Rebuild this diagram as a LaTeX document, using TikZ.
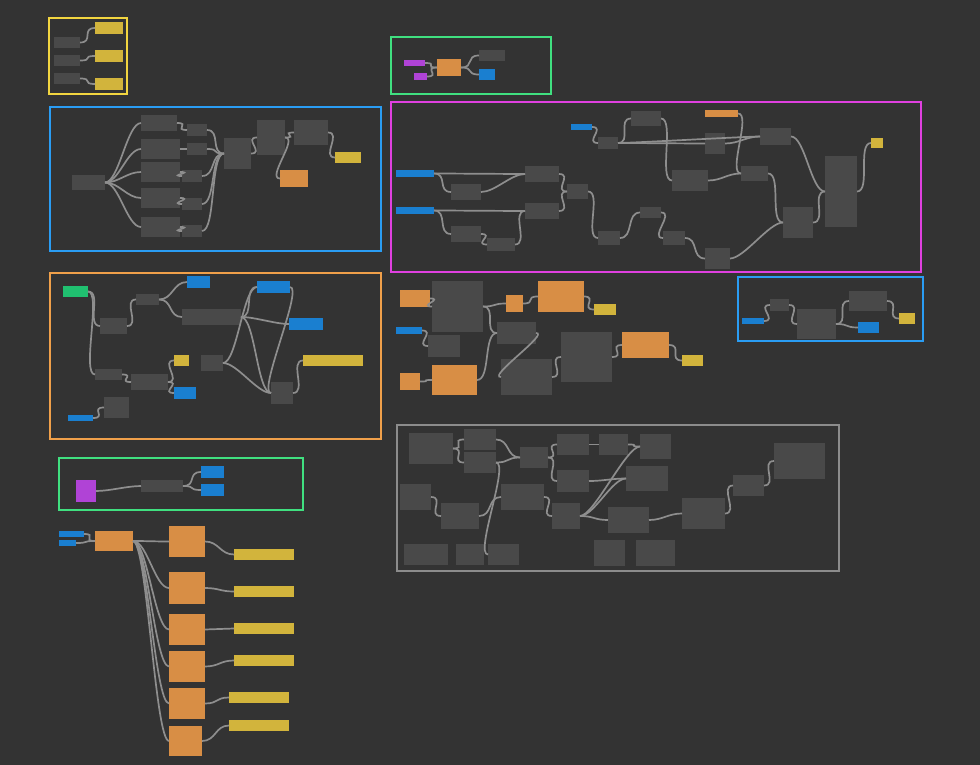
\documentclass[tikz,border=0pt]{standalone}
\begin{document}
\begin{tikzpicture}[x=1pt,y=-1pt,
 box/.style={draw=none,inner sep=0,outer sep=0},
 wire/.style={draw=wireg,line width=1.7pt},
 frame/.style={line width=1.4pt}]
\definecolor{bg}{HTML}{333333}\definecolor{gr}{HTML}{494949}
\definecolor{ye}{HTML}{D2B43C}\definecolor{or}{HTML}{D88E45}
\definecolor{bl}{HTML}{1A7FD0}\definecolor{gn}{HTML}{20C070}
\definecolor{pu}{HTML}{B043D6}\definecolor{wireg}{HTML}{8E8E8E}
\definecolor{fy}{HTML}{F2D540}\definecolor{fb}{HTML}{2A9DF4}
\definecolor{fo}{HTML}{F0A04A}\definecolor{fm}{HTML}{E040E0}
\definecolor{fg}{HTML}{40E080}\definecolor{fgr}{HTML}{8C8C8C}
\fill[bg] (0,0) rectangle (980,765);
\useasboundingbox (0,0) rectangle (980,765);
\newcommand\B[6]{\node[box,fill=#6,minimum width={(#4-#2)*1pt},minimum height={(#5-#3)*1pt}] (#1) at ({(#2+#4)/2},{(#3+#5)/2}) {};}
\newcommand\W[2]{\draw[wire] (#1.east) .. controls +(14,0) and +(-14,0) .. (#2.west);}
% frames
\draw[frame,fy] (49,18) rectangle (127,94);
\draw[frame,fg] (391,37) rectangle (551,94);
\draw[frame,fb] (50,107) rectangle (381,251);
\draw[frame,fm] (391,102) rectangle (921,272);
\draw[frame,fo] (50,273) rectangle (381,439);
\draw[frame,fb] (738,277) rectangle (923,341);
\draw[frame,fg] (59,458) rectangle (303,510);
\draw[frame,fgr] (397,425) rectangle (839,571);
% group 1
\B{a1}{54}{37}{80}{48}{gr}\B{a2}{54}{55}{80}{66}{gr}\B{a3}{54}{73}{80}{84}{gr}
\B{ay1}{95}{22}{123}{34}{ye}\B{ay2}{95}{50}{123}{62}{ye}\B{ay3}{95}{78}{123}{90}{ye}
\W{a1}{ay1}\W{a2}{ay2}\W{a3}{ay3}
% group 2
\B{b1}{404}{60}{425}{66}{pu}\B{b2}{414}{73}{427}{80}{pu}\B{b3}{437}{59}{461}{76}{or}
\B{b4}{479}{50}{505}{61}{gr}\B{b5}{479}{69}{495}{80}{bl}
\W{b1}{b3}\W{b2}{b3}\W{b3}{b4}\W{b3}{b5}
% group 3
\B{c0}{72}{175}{105}{190}{gr}
\B{c1}{141}{115}{177}{131}{gr}\B{c2}{141}{139}{180}{159}{gr}\B{c3}{141}{162}{180}{182}{gr}
\B{c4}{141}{188}{180}{208}{gr}\B{c5}{141}{217}{180}{237}{gr}
\B{d1}{187}{124}{207}{136}{gr}\B{d2}{187}{143}{207}{155}{gr}\B{d3}{182}{170}{202}{182}{gr}
\B{d4}{182}{198}{202}{210}{gr}\B{d5}{182}{225}{202}{237}{gr}
\B{c6}{224}{138}{251}{169}{gr}\B{c7}{257}{120}{285}{155}{gr}\B{c8}{294}{120}{328}{145}{gr}
\B{c9}{335}{152}{361}{163}{ye}\B{c10}{280}{170}{308}{187}{or}
\W{c0}{c1}\W{c0}{c2}\W{c0}{c3}\W{c0}{c4}\W{c0}{c5}
\W{c1}{d1}\W{c2}{d2}\W{c3}{d3}\W{c4}{d4}\W{c5}{d5}
\W{d1}{c6}\W{d2}{c6}\W{d3}{c6}\W{d4}{c6}\W{d5}{c6}\W{c6}{c7}\W{c7}{c8}\W{c8}{c9}\W{c7}{c10}
% group 4
\B{e1}{396}{170}{434}{177}{bl}\B{e2}{396}{207}{434}{214}{bl}
\B{e3}{451}{184}{481}{200}{gr}\B{e4}{451}{226}{481}{242}{gr}\B{e5}{487}{238}{515}{251}{gr}
\B{e6}{525}{166}{559}{182}{gr}\B{e7}{525}{203}{559}{219}{gr}\B{e8}{567}{184}{588}{199}{gr}
\B{e9}{598}{137}{618}{149}{gr}\B{e10}{571}{124}{592}{130}{bl}\B{e11}{598}{231}{620}{245}{gr}
\B{e12}{631}{111}{661}{126}{gr}\B{e13}{640}{207}{661}{218}{gr}\B{e14}{663}{231}{685}{245}{gr}
\B{e15}{672}{170}{708}{191}{gr}\B{e16}{705}{133}{725}{154}{gr}\B{e17}{705}{110}{738}{117}{or}
\B{e18}{705}{248}{730}{269}{gr}\B{e19}{741}{166}{768}{181}{gr}\B{e20}{760}{128}{791}{145}{gr}
\B{e21}{783}{207}{813}{238}{gr}\B{e22}{825}{156}{857}{227}{gr}\B{e23}{871}{138}{883}{148}{ye}
\W{e1}{e3}\W{e1}{e6}\W{e2}{e4}\W{e2}{e7}\W{e3}{e6}\W{e4}{e5}\W{e5}{e7}
\W{e6}{e8}\W{e7}{e8}\W{e8}{e11}\W{e10}{e9}\W{e9}{e12}\W{e9}{e16}\W{e11}{e13}\W{e13}{e14}
\W{e14}{e18}\W{e12}{e15}\W{e15}{e19}\W{e16}{e20}\W{e17}{e19}\W{e18}{e21}\W{e19}{e21}
\W{e20}{e22}\W{e21}{e22}\W{e22}{e23}\W{e9}{e20}
% group 5
\B{f1}{63}{286}{88}{297}{gn}\B{f2}{100}{318}{127}{334}{gr}\B{f3}{136}{294}{159}{305}{gr}
\B{f4}{187}{276}{210}{288}{bl}\B{f5}{182}{309}{241}{325}{gr}\B{f6}{257}{281}{290}{293}{bl}
\B{f7}{289}{318}{323}{330}{bl}\B{f8}{303}{355}{363}{366}{ye}\B{f9}{174}{355}{189}{366}{ye}
\B{f10}{201}{355}{223}{371}{gr}\B{f11}{131}{374}{168}{390}{gr}\B{f12}{174}{387}{196}{399}{bl}
\B{f13}{95}{369}{122}{380}{gr}\B{f14}{104}{397}{129}{418}{gr}\B{f15}{68}{415}{93}{421}{bl}
\B{f16}{271}{382}{293}{404}{gr}
\W{f1}{f2}\W{f1}{f13}\W{f2}{f3}\W{f3}{f4}\W{f3}{f5}\W{f5}{f6}\W{f5}{f7}\W{f5}{f16}
\W{f13}{f11}\W{f11}{f9}\W{f11}{f12}\W{f15}{f14}\W{f10}{f6}\W{f10}{f16}\W{f16}{f8}\W{f6}{f16}
% middle
\B{g1}{400}{290}{430}{307}{or}\B{g2}{432}{281}{483}{332}{gr}\B{g3}{506}{295}{523}{312}{or}
\B{g4}{538}{281}{584}{312}{or}\B{g5}{594}{304}{616}{315}{ye}\B{g6}{396}{327}{422}{334}{bl}
\B{g7}{428}{335}{460}{357}{gr}\B{g8}{497}{322}{536}{344}{gr}\B{g9}{501}{359}{552}{395}{gr}
\B{g10}{561}{332}{612}{382}{gr}\B{g11}{622}{332}{669}{358}{or}\B{g12}{682}{355}{703}{366}{ye}
\B{g13}{400}{373}{420}{390}{or}\B{g14}{432}{365}{477}{395}{or}
\W{g1}{g2}\W{g2}{g3}\W{g3}{g4}\W{g4}{g5}\W{g6}{g7}\W{g2}{g8}\W{g8}{g9}\W{g9}{g10}
\W{g10}{g11}\W{g11}{g12}\W{g13}{g14}\W{g14}{g8}
% group 6
\B{h1}{742}{318}{764}{324}{bl}\B{h2}{770}{299}{789}{311}{gr}\B{h3}{797}{309}{836}{339}{gr}
\B{h4}{849}{291}{887}{311}{gr}\B{h5}{858}{322}{879}{333}{bl}\B{h6}{899}{313}{915}{324}{ye}
\W{h1}{h2}\W{h2}{h3}\W{h3}{h4}\W{h3}{h5}\W{h4}{h6}
% group 7
\B{i1}{76}{480}{96}{502}{pu}\B{i2}{141}{480}{183}{492}{gr}
\B{i3}{201}{466}{224}{478}{bl}\B{i4}{201}{484}{224}{496}{bl}
\W{i1}{i2}\W{i2}{i3}\W{i2}{i4}
% group 8
\B{j1}{409}{433}{453}{464}{gr}\B{j2}{464}{429}{496}{450}{gr}\B{j3}{464}{452}{496}{473}{gr}
\B{j4}{520}{447}{548}{468}{gr}\B{j5}{557}{434}{589}{455}{gr}\B{j6}{599}{434}{628}{455}{gr}
\B{j7}{640}{434}{671}{459}{gr}\B{j8}{557}{470}{589}{492}{gr}\B{j9}{626}{466}{668}{491}{gr}
\B{j10}{400}{484}{431}{510}{gr}\B{j11}{441}{503}{479}{529}{gr}\B{j12}{501}{484}{544}{510}{gr}
\B{j13}{552}{503}{580}{529}{gr}\B{j14}{608}{507}{649}{533}{gr}\B{j15}{682}{498}{725}{529}{gr}
\B{j16}{733}{475}{764}{496}{gr}\B{j17}{774}{443}{825}{479}{gr}
\B{j18}{404}{544}{448}{565}{gr}\B{j19}{456}{544}{484}{565}{gr}\B{j20}{488}{544}{519}{565}{gr}
\B{j21}{594}{540}{625}{566}{gr}\B{j22}{636}{540}{675}{566}{gr}
\W{j1}{j2}\W{j1}{j3}\W{j2}{j4}\W{j3}{j4}\W{j4}{j5}\W{j5}{j6}\W{j6}{j7}\W{j4}{j8}
\W{j8}{j9}\W{j10}{j11}\W{j11}{j12}\W{j12}{j13}\W{j13}{j14}\W{j14}{j15}\W{j15}{j16}
\W{j16}{j17}\W{j3}{j20}\W{j13}{j7}\W{j13}{j9}
% bottom
\B{k1}{59}{531}{84}{537}{bl}\B{k2}{59}{540}{76}{546}{bl}\B{k3}{95}{531}{133}{551}{or}
\B{m1}{169}{526}{205}{557}{or}\B{m2}{169}{572}{205}{604}{or}\B{m3}{169}{614}{205}{645}{or}
\B{m4}{169}{651}{205}{682}{or}\B{m5}{169}{688}{205}{719}{or}\B{m6}{169}{726}{202}{756}{or}
\B{n1}{234}{549}{294}{560}{ye}\B{n2}{234}{586}{294}{597}{ye}\B{n3}{234}{623}{294}{634}{ye}
\B{n4}{234}{655}{294}{666}{ye}\B{n5}{229}{692}{289}{703}{ye}\B{n6}{229}{720}{289}{731}{ye}
\W{k1}{k3}\W{k2}{k3}
\W{k3}{m1}\W{k3}{m2}\W{k3}{m3}\W{k3}{m4}\W{k3}{m5}\W{k3}{m6}
\W{m1}{n1}\W{m2}{n2}\W{m3}{n3}\W{m4}{n4}\W{m5}{n5}\W{m6}{n6}
\end{tikzpicture}
\end{document}
